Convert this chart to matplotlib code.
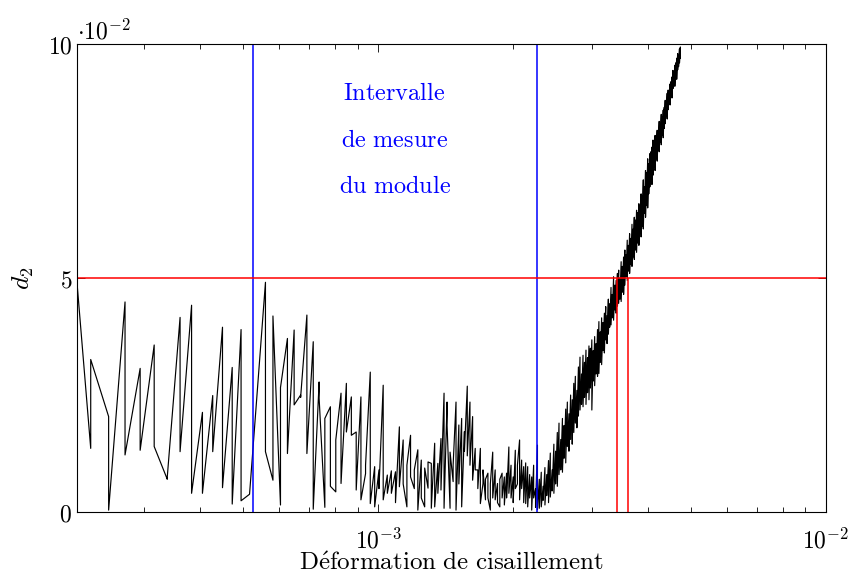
import numpy as np
import matplotlib
matplotlib.use('Agg')
import matplotlib.pyplot as plt
from matplotlib.ticker import FixedLocator, FixedFormatter, NullFormatter

plt.rcParams['mathtext.fontset'] = 'cm'
plt.rcParams['font.family'] = 'serif'
plt.rcParams['font.serif'] = ['DejaVu Serif']

# strain levels (x 1e-6), two readings of d2 (x 1e-2) per level
strain_u = [205, 228, 250, 272, 294, 316, 338, 361, 383, 405,
            427, 449, 472, 494, 516, 538, 560, 582, 605, 627,
            649, 671, 693, 716, 738, 760, 782, 804, 826, 849,
            871, 893, 915, 937, 960, 982, 1004, 1026, 1048, 1070,
            1093, 1115, 1137, 1159, 1181, 1204, 1226, 1248, 1270, 1292,
            1314, 1337, 1359, 1381, 1403, 1425, 1447, 1470, 1492, 1514,
            1536, 1558, 1581, 1603, 1625, 1647, 1669, 1691, 1714, 1736,
            1758, 1780, 1802, 1825, 1847, 1869, 1891, 1913, 1935, 1958,
            1980, 2002, 2024, 2046, 2069, 2091, 2113, 2135, 2157, 2179,
            2202, 2224, 2246, 2268, 2290, 2313, 2335, 2357, 2379, 2401,
            2423, 2446, 2468, 2490, 2512, 2534, 2557, 2579, 2601, 2623,
            2645, 2667, 2690, 2712, 2734, 2756, 2778, 2800, 2823, 2845,
            2867, 2889, 2911, 2934, 2956, 2978, 3000, 3022, 3044, 3067,
            3089, 3111, 3133, 3155, 3178, 3200, 3222, 3244, 3266, 3288,
            3311, 3333, 3355, 3377, 3399, 3422, 3444, 3466, 3488, 3510,
            3532, 3555, 3577, 3599, 3621, 3643, 3665, 3688, 3710, 3732,
            3754, 3776, 3799, 3821, 3843, 3865, 3887, 3909, 3932, 3954,
            3976, 3998, 4020, 4043, 4065, 4087, 4109, 4131, 4153, 4176,
            4198, 4220, 4242, 4264, 4287, 4309, 4331, 4353, 4375, 4397,
            4420, 4442, 4464, 4486, 4508, 4531, 4553, 4575, 4597, 4619,
            4641, 4664, 4686, 4708, 4730]

d2_first = [6.70, 1.36, 2.04, 4.49, 3.07, 3.57, 0.70, 4.16, 4.42, 2.13,
            2.49, 3.95, 3.09, 3.90, 0.38, 2.70, 4.91, 0.68, 0.15, 3.71,
            3.89, 2.50, 4.21, 3.64, 2.78, 0.10, 2.25, 0.43, 2.54, 2.75,
            2.46, 1.71, 2.46, 0.82, 2.99, 0.97, 0.90, 2.71, 0.79, 0.88,
            0.86, 1.82, 1.54, 0.11, 1.64, 0.50, 1.33, 1.11, 0.11, 0.51,
            1.04, 1.47, 1.04, 1.57, 2.54, 2.35, 0.08, 0.65, 2.35, 1.86,
            2.00, 1.72, 2.69, 2.35, 2.04, 1.36, 0.90, 1.36, 0.61, 0.26,
            0.83, 0.04, 1.28, 0.90, 0.61, 0.11, 0.83, 0.75, 0.83, 1.39,
            1.00, 0.75, 1.32, 0.60, 1.54, 1.11, 0.97, 1.05, 0.97, 0.80,
            0.75, 1.00, 0.50, 1.43, 0.70, 0.85, 0.55, 0.95, 0.80, 1.10,
            1.26, 0.90, 1.45, 1.30, 1.70, 1.90, 1.55, 2.00, 1.85, 2.20,
            2.35, 2.10, 2.50, 2.40, 2.75, 2.90, 2.60, 3.10, 3.31, 2.95,
            3.35, 3.20, 3.46, 3.30, 3.55, 3.50, 3.68, 3.45, 3.75, 3.60,
            3.90, 4.07, 3.85, 4.15, 4.05, 4.25, 4.39, 4.20, 4.55, 4.45,
            4.80, 4.65, 5.03, 4.85, 4.95, 5.10, 5.17, 5.00, 5.35, 5.25,
            5.45, 5.60, 5.50, 5.81, 5.70, 5.95, 5.85, 6.15, 6.05, 6.30,
            6.24, 6.45, 6.40, 6.59, 6.55, 6.80, 6.75, 7.10, 6.95, 7.30,
            7.25, 7.55, 7.45, 7.66, 7.70, 7.80, 7.95, 7.85, 8.05, 8.00,
            8.16, 8.10, 8.35, 8.30, 8.50, 8.45, 8.59, 8.65, 8.80, 8.75,
            8.95, 9.02, 8.95, 9.15, 9.20, 9.30, 9.44, 9.35, 9.55, 9.60,
            9.70, 9.80, 9.75, 9.90, 9.94]

d2_second = [6.70, 3.26, 0.04, 1.22, 1.32, 1.40, 0.75, 1.29, 0.40, 0.40,
             1.29, 0.52, 0.17, 0.24, 0.38, 2.70, 1.29, 4.19, 2.66, 1.25,
             2.29, 2.45, 1.25, 0.06, 2.43, 2.00, 0.55, 1.54, 0.61, 1.71,
             1.64, 0.47, 0.26, 1.00, 0.18, 0.11, 0.50, 0.26, 0.40, 0.40,
             0.20, 0.54, 0.60, 1.00, 0.75, 0.90, 0.04, 0.30, 0.94, 1.07,
             0.08, 0.11, 0.40, 0.47, 0.08, 1.85, 1.28, 1.00, 0.04, 0.60,
             0.11, 1.30, 1.20, 1.00, 0.68, 0.90, 0.50, 0.18, 0.90, 0.70,
             0.30, 0.60, 0.30, 0.26, 0.20, 0.70, 0.30, 0.15, 0.30, 0.40,
             0.30, 0.20, 0.50, 1.00, 0.26, 0.50, 0.20, 0.18, 0.11, 0.30,
             0.04, 0.30, 0.10, 0.05, 0.08, 0.11, 0.25, 0.15, 0.35, 0.20,
             0.32, 0.45, 0.40, 0.60, 0.55, 0.80, 0.90, 0.85, 1.15, 1.05,
             1.40, 1.30, 1.55, 1.45, 1.70, 1.90, 1.80, 2.05, 2.18, 2.30,
             2.25, 2.45, 2.30, 2.55, 2.40, 2.65, 2.18, 2.80, 2.70, 2.95,
             2.90, 2.96, 3.20, 3.15, 3.45, 3.40, 3.68, 3.60, 3.80, 3.95,
             4.00, 4.15, 4.10, 4.32, 4.25, 4.40, 4.46, 4.55, 4.50, 4.70,
             4.65, 4.85, 5.03, 4.95, 5.15, 5.10, 5.30, 5.25, 5.45, 5.40,
             5.60, 5.55, 5.75, 5.70, 5.95, 5.88, 6.10, 6.05, 6.38, 6.30,
             6.55, 6.50, 6.80, 6.95, 7.05, 7.00, 7.20, 7.38, 7.30, 7.55,
             7.50, 7.74, 7.70, 7.90, 7.85, 8.05, 8.00, 8.20, 8.30, 8.45,
             8.40, 8.60, 8.77, 8.70, 8.90, 8.85, 9.05, 9.16, 9.10, 9.30,
             9.25, 9.45, 9.52, 9.60, 9.70]

interval_bounds = [5.24e-4, 2.26e-3]
d2_threshold = 0.05
threshold_strains = [3.42e-3, 3.61e-3]
annotation = ['Intervalle', 'de\\ mesure', 'du\\ module']

strain = np.repeat(np.array(strain_u) * 1e-6, 2)
d2 = np.column_stack([d2_first, d2_second]).ravel() * 1e-2

fig = plt.figure(figsize=(8.53, 5.79), dpi=100)
ax = fig.add_axes([0.0903, 0.1157, 0.878, 0.808])

ax.plot(strain, d2, color='black', lw=0.85)
for xb in interval_bounds:
    ax.axvline(xb, color='blue', lw=1.1)
ax.axhline(d2_threshold, color='red', lw=1.1)
ax.vlines(threshold_strains, 0, d2_threshold, color='red', lw=1.1)

xc = np.sqrt(interval_bounds[0] * interval_bounds[1])
for i, line in enumerate(annotation):
    ax.text(xc, 0.0895 - 0.01 * i, r'$\mathrm{' + line + '}$', color='blue',
            fontsize=17.5, ha='center', va='center')

ax.set_xscale('log')
ax.set_xlim(2.125e-4, 1e-2)
ax.set_ylim(0, 0.1)

ax.xaxis.set_major_locator(FixedLocator([1e-3, 1e-2]))
ax.xaxis.set_major_formatter(FixedFormatter([r'$10^{-3}$', r'$10^{-2}$']))
minors = [m * 10.0 ** e for e in (-4, -3) for m in range(2, 10)]
ax.xaxis.set_minor_locator(FixedLocator(minors))
ax.xaxis.set_minor_formatter(NullFormatter())
ax.yaxis.set_major_locator(FixedLocator([0, 0.05, 0.1]))
ax.yaxis.set_major_formatter(FixedFormatter([r'$0$', r'$5$', r'$10$']))

ax.tick_params(which='both', direction='in', top=True, right=True,
               labelsize=17, width=0.6)
ax.tick_params(which='major', length=6)
ax.tick_params(which='minor', length=3.5)
ax.tick_params(axis='x', pad=12)
for s in ax.spines.values():
    s.set_linewidth(0.8)

ax.text(0.0, 1.0, r'$\cdot 10^{-2}$', transform=ax.transAxes,
        fontsize=17, ha='left', va='bottom')
ax.set_xlabel(r'$\mathrm{D\acute{e}formation\ de\ cisaillement}$', fontsize=18, labelpad=-1)
ax.set_ylabel(r'$d_2$', fontsize=18.5, labelpad=8)

fig.savefig('out.png', dpi=100)
